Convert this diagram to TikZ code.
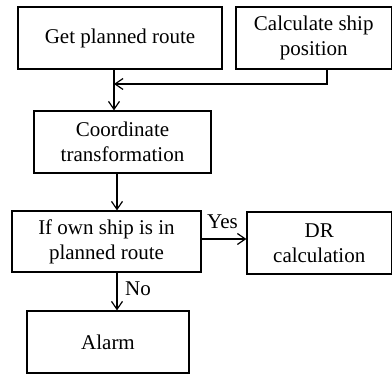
\documentclass[tikz,border=0pt]{standalone}
\usepackage{fontspec}
\setmainfont{Liberation Serif}
\usetikzlibrary{positioning,arrows.meta}

\begin{document}
\begin{tikzpicture}[x=0.5pt, y=0.5pt, >={Straight Barb[length=4pt,width=5.5pt]},
    every node/.style = {font=\fontsize{10.5}{12.5}\selectfont},
    box/.style = {draw, rectangle, line width=0.6pt, align=center, inner sep=0pt, minimum height=31pt},
    link/.style = {->, line width=0.6pt}
    ]
    \useasboundingbox (0,0) rectangle (392,374);
    \node[box, minimum width=102pt] (route) at (120,336) {Get planned route};
    \node[box, minimum width=77.75pt] (calc) at (313.75,336) {Calculate ship\\position};
    \node[box, minimum width=88.5pt] (coord) at (122.5,232) {Coordinate\\transformation};
    \node[box, minimum width=94.5pt, minimum height=30.5pt] (check) at (106.5,132.5) {If own ship is in\\planned route};
    \node[box, minimum width=72.25pt] (dr) at (319.25,131) {DR\\calculation};
    \node[box, minimum width=81pt] (alarm) at (108,32) {Alarm};

    \coordinate (j) at (114,290);
    \coordinate (k) at (327,290);
    \coordinate (m) at (117,0);
    \draw[link] (route.south -| j) -- (coord.north -| j);
    \draw[link] (calc.south -| k) -- (k) -- (j);
    \draw[link] (coord.south -| m) -- (check.north -| m);
    \draw[link] (check.east |- 0,135) -- (dr.west |- 0,135);
    \draw[link] (check.south -| m) -- (alarm.north -| m);

    \node (yes) at (222.5,152) {Yes};
    \node (no) at (138,85) {No};
\end{tikzpicture}
\end{document}
